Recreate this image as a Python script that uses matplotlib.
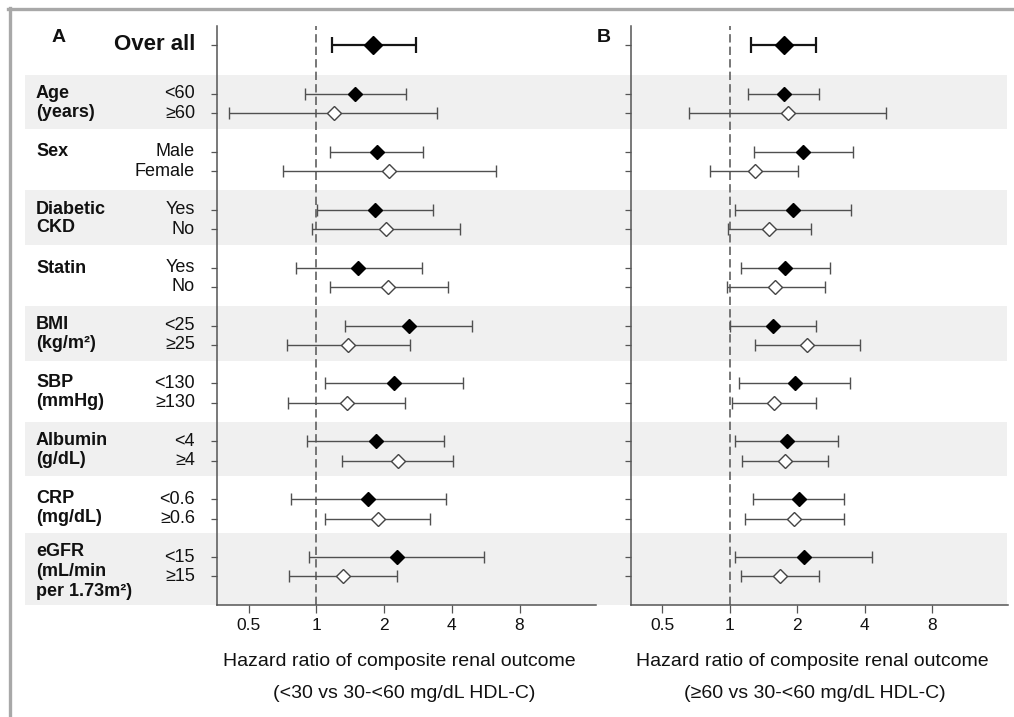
import matplotlib
matplotlib.use("Agg")
import matplotlib.pyplot as plt
from matplotlib.transforms import blended_transform_factory
from matplotlib.patches import Rectangle
from matplotlib.lines import Line2D

plt.rcParams['font.family'] = ['Liberation Sans', 'DejaVu Sans']

# ---------------- data ----------------
group_labels = ["Age\n(years)", "Sex", "Diabetic\nCKD", "Statin", "BMI\n(kg/m²)",
                "SBP\n(mmHg)", "Albumin\n(g/dL)", "CRP\n(mg/dL)",
                "eGFR\n(mL/min\nper 1.73m²)"]
subgroup_labels = ["<60", "≥60", "Male", "Female", "Yes", "No", "Yes", "No",
                   "<25", "≥25", "<130", "≥130", "<4", "≥4", "<0.6", "≥0.6",
                   "<15", "≥15"]

# Panel A: <30 vs 30-<60 mg/dL HDL-C
overall_A = [1.79, 1.17, 2.77]          # estimate, lower, upper
est_A = [1.49, 1.20, 1.87, 2.10, 1.83, 2.05, 1.54, 2.09, 2.58, 1.38,
         2.21, 1.37, 1.85, 2.31, 1.70, 1.88, 2.28, 1.31]
lo_A = [0.89, 0.41, 1.15, 0.71, 1.01, 0.96, 0.81, 1.15, 1.34, 0.74,
        1.09, 0.75, 0.91, 1.30, 0.77, 1.09, 0.93, 0.76]
hi_A = [2.51, 3.43, 2.99, 6.28, 3.31, 4.36, 2.95, 3.83, 4.91, 2.60,
        4.49, 2.49, 3.71, 4.05, 3.77, 3.21, 5.55, 2.29]

# Panel B: >=60 vs 30-<60 mg/dL HDL-C
overall_B = [1.74, 1.25, 2.42]
est_B = [1.74, 1.82, 2.12, 1.29, 1.92, 1.50, 1.77, 1.60, 1.56, 2.21,
         1.96, 1.58, 1.80, 1.76, 2.03, 1.94, 2.15, 1.68]
lo_B = [1.21, 0.66, 1.28, 0.82, 1.06, 0.98, 1.12, 0.97, 1.00, 1.29,
        1.10, 1.02, 1.06, 1.13, 1.27, 1.17, 1.06, 1.12]
hi_B = [2.50, 5.00, 3.55, 2.02, 3.49, 2.30, 2.81, 2.66, 2.42, 3.80,
        3.45, 2.42, 3.05, 2.76, 3.23, 3.25, 4.33, 2.50]

xticks = [0.5, 1, 2, 4, 8]
xtick_labels = ["0.5", "1", "2", "4", "8"]
xlabel_line1 = "Hazard ratio of composite renal outcome"
xlabel_A = "(<30 vs 30-<60 mg/dL HDL-C)"
xlabel_B = "(≥60 vs 30-<60 mg/dL HDL-C)"

# ---------------- layout ----------------
W, H = 1014, 717
fig = plt.figure(figsize=(W / 100, H / 100), dpi=100)
fig.patch.set_facecolor('white')


def fx(px):
    return px / W


def fy(py):
    return 1 - py / H


axA = fig.add_axes([fx(217), fy(605), fx(596) - fx(217), fy(26) - fy(605)])
axB = fig.add_axes([fx(631), fy(605), fx(1008) - fx(631), fy(26) - fy(605)])

rows = [3 * g + i for g in range(len(group_labels)) for i in range(2)]
overall_y = -2.54
ylim = (26.48, -3.52)

SPINE = '#555555'
TXT = '#111111'


def draw_panel(ax, ov, est, lo, hi):
    ax.set_facecolor('none')
    ax.set_xscale('log', base=2)
    ax.set_xlim(0.362, 17.5)
    ax.set_ylim(*ylim)
    ax.axvline(1, color='#606060', lw=1.2, dashes=(5, 2.5), zorder=1)
    ax.errorbar([ov[0]], [overall_y], xerr=[[ov[0] - ov[1]], [ov[2] - ov[0]]],
                fmt='none', ecolor='#151515', elinewidth=1.6, capsize=5.6,
                capthick=1.6, zorder=3)
    ax.plot([ov[0]], [overall_y], ls='none', marker='D', ms=9.3,
            mfc='black', mec='black', mew=1.0, zorder=4)
    for k, y in enumerate(rows):
        ax.errorbar([est[k]], [y], xerr=[[est[k] - lo[k]], [hi[k] - est[k]]],
                    fmt='none', ecolor='#505050', elinewidth=1.0, capsize=4.2,
                    capthick=1.0, zorder=3)
        filled = (k % 2 == 0)
        ax.plot([est[k]], [y], ls='none', marker='D', ms=7.6,
                mfc='black' if filled else 'white',
                mec='black' if filled else '#444444', mew=1.0, zorder=4)
    for s in ['top', 'right']:
        ax.spines[s].set_visible(False)
    for s in ['left', 'bottom']:
        ax.spines[s].set_color(SPINE)
        ax.spines[s].set_linewidth(1.1)
    ax.set_yticks(rows + [overall_y])
    ax.set_yticklabels([])
    ax.tick_params(axis='y', length=4.5, width=0.9, color=SPINE, labelleft=False)
    ax.set_xticks(xticks)
    ax.set_xticklabels(xtick_labels)
    ax.minorticks_off()
    ax.tick_params(axis='x', length=5.5, width=0.9, color=SPINE,
                   labelsize=12.5, pad=4.0, labelcolor=TXT)


draw_panel(axA, overall_A, est_A, lo_A, hi_A)
draw_panel(axB, overall_B, est_B, lo_B, hi_B)

# background bands spanning the figure width
band_tr = blended_transform_factory(fig.transFigure, axA.transData)
for g in range(0, len(group_labels), 2):
    top = 3 * g - 1.0
    bottom = 3 * g + 1.82
    if g == len(group_labels) - 1:
        top = 3 * g - 1.27
        bottom = ylim[0]
    axA.add_patch(Rectangle((fx(25), top), fx(1007) - fx(25), bottom - top,
                            transform=band_tr, facecolor='#f0f0f0',
                            edgecolor='none', clip_on=False, zorder=0))

# row labels
lab_tr = band_tr
label_offsets = [0.45, 0.0, 0.45, 0.07, 0.45, 0.45, 0.45, 0.45, 0.73]
for g, lab in enumerate(group_labels):
    axA.text(fx(36), 3 * g + label_offsets[g], lab, transform=lab_tr,
             ha='left', va='center', fontsize=13, fontweight='bold',
             linespacing=1.24 if g == len(group_labels) - 1 else 1.14,
             color=TXT)
for k, y in enumerate(rows):
    axA.text(fx(195), y, subgroup_labels[k], transform=lab_tr, ha='right',
             va='center', fontsize=13, color=TXT)
axA.text(fx(195), overall_y, "Over all", transform=lab_tr, ha='right',
         va='center', fontsize=16, fontweight='bold', color=TXT)
axA.text(fx(52), -2.95, "A", transform=lab_tr, ha='left', va='center',
         fontsize=14, fontweight='bold', color=TXT)
axA.text(fx(597), -2.95, "B", transform=lab_tr, ha='left', va='center',
         fontsize=14, fontweight='bold', color=TXT)

# axis titles
fig.text(fx(399), fy(661), xlabel_line1, ha='center', va='center', fontsize=14,
         color=TXT)
fig.text(fx(404), fy(693), xlabel_A, ha='center', va='center', fontsize=14,
         color=TXT)
fig.text(fx(812.5), fy(661), xlabel_line1, ha='center', va='center', fontsize=14,
         color=TXT)
fig.text(fx(815), fy(693), xlabel_B, ha='center', va='center', fontsize=14,
         color=TXT)

# outer frame (top and left)
fig.add_artist(Line2D([fx(8), fx(1014)], [fy(8.5), fy(8.5)], transform=fig.transFigure,
                      color='#a8a8a8', lw=2.4))
fig.add_artist(Line2D([fx(9.5), fx(9.5)], [fy(7.5), fy(717)], transform=fig.transFigure,
                      color='#a8a8a8', lw=2.4))

fig.savefig("out.png", dpi=100, facecolor='white')
